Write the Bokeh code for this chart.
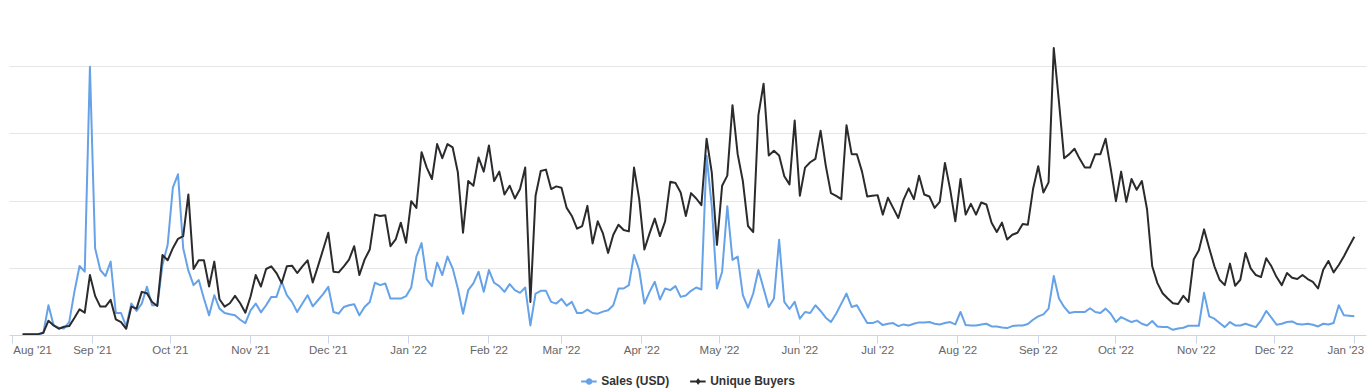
import pandas as pd
from bokeh.plotting import figure
from bokeh.layouts import column
from bokeh.models import (Range1d, FixedTicker, Grid, Legend, LegendItem,
                          ColumnDataSource, CDSView, IndexFilter)
from bokeh.embed import file_html
from bokeh.resources import INLINE

# ---------------- data ----------------
start_date = "2021-08-05"      # first point
step_days = 2                  # one point every two days

# Sales (USD), in thousands
sales_k = [
    # Aug - early Oct 2021
    2, 3, 3, 3, 7, 90, 30, 23, 21, 40, 130, 207, 190, 800, 260, 195,
    177, 220, 67, 67, 27, 95, 73, 95, 145, 90, 90, 210, 270, 440, 480,
    # Oct - Dec 2021
    260, 193, 150, 165, 110, 60, 120, 80, 67, 63, 60, 47, 37, 75, 95, 69,
    90, 115, 115, 160, 120, 100, 70, 95, 120, 87, 105, 123, 145, 70, 65, 85,
    # Dec 2021 - Feb 2022
    90, 93, 60, 85, 100, 157, 150, 155, 110, 110, 110, 117, 143, 235, 275, 167,
    147, 217, 180, 235, 200, 140, 65, 135, 155, 190, 130, 195, 157, 147, 130, 153, 135,
    # Feb - Apr 2022
    127, 143, 30, 125, 133, 133, 100, 95, 109, 89, 100, 67, 67, 77, 67, 65,
    71, 75, 90, 140, 140, 150, 240, 195, 95, 130, 160, 107, 140, 135, 147, 115,
    # Apr - Jun 2022
    119, 133, 143, 137, 535, 385, 140, 190, 385, 225, 235, 120, 83, 125, 195, 140,
    85, 110, 285, 100, 79, 100, 50, 70, 67, 90, 73, 53, 40, 65, 95, 125, 85,
    # Jun - Aug 2022
    90, 63, 37, 37, 43, 31, 35, 37, 28, 33, 30, 35, 39, 39, 40, 35,
    33, 37, 40, 33, 70, 31, 30, 30, 33, 35, 27, 27, 24, 22, 28, 30,
    # Aug - Oct 2022
    30, 34, 47, 57, 63, 80, 177, 110, 85, 67, 70, 70, 70, 81, 70, 67,
    80, 65, 40, 55, 47, 40, 45, 35, 30, 43, 27, 25, 25, 17, 21, 23, 29,
    # Oct 2022 - Jan 2023
    29, 29, 127, 57, 50, 37, 25, 40, 30, 30, 35, 30, 25, 45, 73, 53,
    32, 35, 40, 42, 34, 33, 35, 32, 27, 35, 33, 37, 90, 60, 59, 57,
]

# Unique Buyers
buyers = [
    # Aug - early Oct 2021
    2, 2, 2, 2, 4, 22, 15, 10, 13, 14, 26, 39, 34, 90, 59, 43,
    43, 53, 24, 20, 10, 43, 40, 65, 63, 50, 44, 120, 112, 130, 144,
    # Oct - Dec 2021
    148, 210, 99, 112, 112, 73, 110, 54, 43, 48, 59, 48, 34, 58, 90, 73,
    99, 103, 93, 78, 103, 104, 93, 103, 112, 79, 103, 128, 153, 95, 94, 103,
    # Dec 2021 - Feb 2022
    113, 133, 90, 113, 128, 180, 178, 179, 133, 143, 168, 138, 200, 190, 273, 250,
    233, 285, 264, 285, 280, 243, 153, 230, 223, 265, 244, 283, 230, 244, 210, 223, 204,
    # Feb - Apr 2022
    218, 250, 50, 208, 245, 247, 218, 222, 220, 190, 178, 159, 163, 193, 137, 170,
    152, 123, 150, 165, 157, 155, 250, 203, 128, 152, 174, 148, 170, 229, 227, 213,
    # Apr - Jun 2022
    178, 212, 204, 194, 293, 243, 135, 223, 238, 343, 270, 230, 163, 154, 328, 375,
    268, 275, 268, 237, 225, 320, 208, 250, 258, 263, 305, 253, 212, 208, 203, 313, 270,
    # Jun - Aug 2022
    270, 244, 207, 208, 209, 180, 205, 190, 175, 202, 219, 203, 238, 210, 207, 190,
    199, 257, 218, 170, 233, 180, 196, 180, 198, 195, 168, 154, 168, 143, 150, 153,
    # Aug - Oct 2022
    166, 165, 218, 252, 213, 228, 428, 348, 264, 270, 278, 263, 250, 250, 270, 270,
    293, 248, 200, 244, 199, 233, 217, 230, 188, 103, 78, 63, 55, 48, 47, 59, 50,
    # Oct 2022 - Jan 2023
    113, 127, 158, 130, 103, 83, 75, 107, 74, 83, 123, 100, 90, 87, 115, 103,
    87, 75, 93, 86, 84, 90, 84, 80, 70, 98, 111, 94, 105, 118, 133, 147,
]

month_labels = ["Aug '21", "Sep '21", "Oct '21", "Nov '21", "Dec '21", "Jan '22",
                "Feb '22", "Mar '22", "Apr '22", "May '22", "Jun '22", "Jul '22",
                "Aug '22", "Sep '22", "Oct '22", "Nov '22", "Dec '22", "Jan '23"]

series_names = ["Sales (USD)", "Unique Buyers"]

# ---------------- build ----------------
BLUE = "#65a2e8"
DARK = "#2b2b2e"
NB = "\u00a0"

origin = pd.Timestamp("2021-08-01")
n = min(len(sales_k), len(buyers))
dates = pd.date_range(start_date, periods=n, freq=f"{step_days}D")
x = [int(v) for v in (dates - origin).days]
month_starts = pd.date_range("2021-08-01", periods=len(month_labels), freq="MS")
tick_x = [int((m - origin).days) for m in month_starts]

# edge labels are pushed inside the plot, as the original chart does
shown_labels = list(month_labels)
shown_labels[0] = NB * 4 + shown_labels[0]
shown_labels[-1] = shown_labels[-1] + NB * 2

src = ColumnDataSource(dict(x=x, sales=sales_k[:n], buyers=buyers[:n]))

p = figure(width=1370, height=371, output_backend="svg", toolbar_location=None,
           x_range=Range1d(-1.04, 522.7), y_range=Range1d(0, 967.7),
           y_axis_location=None,
           min_border_left=9, min_border_right=4, min_border_top=10,
           min_border_bottom=36)
p.extra_y_ranges = {"buyers": Range1d(0, 483.9)}
p.outline_line_color = None
p.background_fill_color = "white"
p.border_fill_color = "white"
p.xgrid.grid_line_color = None

p.add_layout(Grid(dimension=1, ticker=FixedTicker(ticks=[200, 400, 600, 800]),
                  grid_line_color="#e6e6e6", grid_line_width=1))

ax = p.xaxis[0]
ax.ticker = FixedTicker(ticks=tick_x)
ax.major_label_overrides = dict(zip(tick_x, shown_labels))
ax.axis_line_color = "#ccd6eb"
ax.major_tick_line_color = "#ccd6eb"
ax.minor_tick_line_color = None
ax.major_tick_out = 8
ax.major_tick_in = 0
ax.major_label_standoff = 0
ax.major_label_text_font = "Liberation Sans"
ax.major_label_text_font_size = "11.5px"
ax.major_label_text_color = "#666666"

p.line("x", "sales", source=src, line_color=BLUE, line_width=2, line_join="round")
p.line("x", "buyers", source=src, y_range_name="buyers",
       line_color=DARK, line_width=2, line_join="round")

# ---------------- legend strip below the chart ----------------
# the strip's ranges exclude all data, so its renderers only feed the legend
lp = figure(width=1370, height=20, output_backend="svg", toolbar_location=None,
            x_range=Range1d(-3, -2), y_range=Range1d(-3, -2),
            x_axis_location=None, y_axis_location=None,
            min_border_left=5, min_border_right=0, min_border_top=0,
            min_border_bottom=0)
lp.outline_line_color = None
lp.xgrid.visible = False
lp.ygrid.visible = False

one_view = CDSView(filter=IndexFilter(indices=[0]))
l_sales = lp.line("x", "sales", source=src, view=one_view,
                  line_color=BLUE, line_width=2)
s_sales = lp.scatter("x", "sales", source=src, view=one_view, marker="circle",
                     size=8, fill_color=BLUE, line_color=BLUE)
l_buy = lp.line("x", "buyers", source=src, view=one_view,
                line_color=DARK, line_width=2)
s_buy = lp.scatter("x", "buyers", source=src, view=one_view, marker="diamond",
                   size=11, fill_color=DARK, line_color=DARK)

legend = Legend(items=[LegendItem(label=series_names[0], renderers=[l_sales, s_sales]),
                       LegendItem(label=series_names[1], renderers=[l_buy, s_buy])],
                location="center", orientation="horizontal",
                glyph_width=16, glyph_height=14, label_height=14,
                label_standoff=5, spacing=20, padding=0, margin=0,
                border_line_color=None, background_fill_alpha=0,
                label_text_font="Liberation Sans", label_text_font_style="bold",
                label_text_font_size="12px", label_text_color="#333333")
lp.add_layout(legend, "center")

open("out.html", "w").write(file_html(column(p, lp, spacing=0), INLINE))
